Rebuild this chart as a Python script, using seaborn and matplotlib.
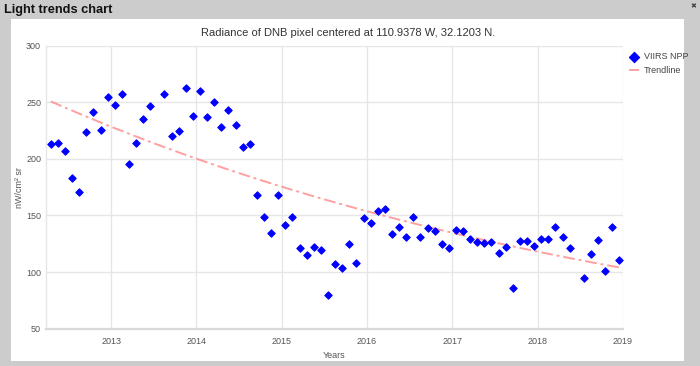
import numpy as np
import pandas as pd
import matplotlib
matplotlib.use("Agg")
import matplotlib.pyplot as plt
import seaborn as sns
from matplotlib.patches import Rectangle

# ---------------- data ----------------
months = [
    "2012-04", "2012-05", "2012-06", "2012-07", "2012-08", "2012-09", "2012-10", "2012-11", "2012-12",
    "2013-01", "2013-02", "2013-03", "2013-04", "2013-05", "2013-06", "2013-08", "2013-09", "2013-10",
    "2013-11", "2013-12",
    "2014-01", "2014-02", "2014-03", "2014-04", "2014-05", "2014-06", "2014-07", "2014-08", "2014-09",
    "2014-10", "2014-11", "2014-12",
    "2015-01", "2015-02", "2015-03", "2015-04", "2015-05", "2015-06", "2015-07", "2015-08", "2015-09",
    "2015-10", "2015-11", "2015-12",
    "2016-01", "2016-02", "2016-03", "2016-04", "2016-05", "2016-06", "2016-07", "2016-08", "2016-09",
    "2016-10", "2016-11", "2016-12",
    "2017-01", "2017-02", "2017-03", "2017-04", "2017-05", "2017-06", "2017-07", "2017-08", "2017-09",
    "2017-10", "2017-11", "2017-12",
    "2018-01", "2018-02", "2018-03", "2018-04", "2018-05", "2018-07", "2018-08", "2018-09", "2018-10",
    "2018-11", "2018-12",
]
radiance = [
    213.0, 213.9, 207.1, 183.5, 171.1, 224.2, 241.6, 225.9, 254.6,
    247.5, 257.3, 195.3, 214.2, 235.7, 246.9, 257.3, 220.4, 225.0,
    263.1, 238.3,
    260.2, 237.4, 250.7, 228.6, 243.4, 229.8, 210.9, 213.0, 168.1,
    149.0, 134.8, 167.9,
    141.9, 148.4, 121.2, 115.3, 122.4, 119.8, 79.6, 106.8, 103.8,
    125.0, 108.0, 147.5,
    143.4, 153.7, 155.8, 133.9, 139.8, 131.2, 148.7, 131.0, 139.2,
    136.5, 124.8, 121.0,
    137.2, 136.6, 128.9, 126.8, 125.9, 126.2, 116.8, 121.7, 85.8,
    127.4, 127.7, 123.0,
    128.9, 129.2, 139.6, 130.7, 121.5, 94.4, 115.7, 128.1, 101.2,
    139.8, 110.6,
]
# exponential trendline, end values
trend_start = 251.0
trend_end = 104.0
year_ticks = [2013, 2014, 2015, 2016, 2017, 2018, 2019]
y_ticks = [50, 100, 150, 200, 250, 300]

# ---------------- prep ----------------
dt = pd.to_datetime(months)
xdec = dt.year + (dt.month - 0.5) / 12.0
df = pd.DataFrame({"x": xdec, "y": radiance})
frac = (df["x"] - df["x"].min()) / (df["x"].max() - df["x"].min())
df["trend"] = trend_start * (trend_end / trend_start) ** frac

plt.rcParams["font.family"] = ["Liberation Sans", "DejaVu Sans"]

W, H = 700, 366
fig = plt.figure(figsize=(7, 3.66), dpi=100, facecolor="#cccccc")
fig.patches.append(Rectangle((11 / W, 1 - 361 / H), 673 / W, 342 / H,
                             transform=fig.transFigure, facecolor="white",
                             edgecolor="none", zorder=-5))

ax = fig.add_axes([46 / W, 1 - 328.5 / H, (623 - 46) / W, (328.5 - 46) / H])
ax.set_facecolor("white")
ax.set_zorder(1)

sns.lineplot(data=df, x="x", y="trend", ax=ax, color="#ff8080", alpha=0.75,
             linewidth=1.4, linestyle=(0, (6, 2, 1.5, 2)), label="Trendline", zorder=2)
sns.scatterplot(data=df, x="x", y="y", ax=ax, marker="D", s=14, color="#0000ff",
                edgecolor="#0000ff", linewidth=0.8, label="VIIRS NPP", zorder=3)

ax.set_xlim(2012.236, 2019.0)
ax.set_ylim(50, 300)
ax.set_xticks(year_ticks)
ax.set_xticklabels([str(t) for t in year_ticks])
ax.set_yticks(y_ticks)
ax.grid(True, color="#e6e6e6", linewidth=1.0, zorder=0)
ax.set_axisbelow(True)
for s in ["top", "right"]:
    ax.spines[s].set_visible(False)
ax.spines["left"].set_color("#e6e6e6")
ax.spines["left"].set_linewidth(1.0)
ax.spines["bottom"].set_color("#d8d8d8")
ax.spines["bottom"].set_linewidth(1.6)
ax.tick_params(axis="both", length=0, labelsize=6.5, labelcolor="#555555")
ax.tick_params(axis="x", pad=6)
ax.tick_params(axis="y", pad=3.5)
ax.set_xlabel("Years", fontsize=6.5, color="#555555", labelpad=4)
ax.set_ylabel("nW/cm² sr", fontsize=6.5, color="#555555")
ax.yaxis.set_label_coords((19 - 46) / (623 - 46), 0.5)
ax.yaxis.label.set_va("center")

handles, labels = ax.get_legend_handles_labels()
order = [labels.index("VIIRS NPP"), labels.index("Trendline")]
leg = ax.legend([handles[i] for i in order], [labels[i] for i in order],
                loc="upper left", bbox_to_anchor=(1.005, 0.99), frameon=False,
                fontsize=6.5, markerscale=1.4, handlelength=1.0, handletextpad=0.6,
                labelspacing=0.5, borderaxespad=0.0)
for t in leg.get_texts():
    t.set_color("#444444")

fig.text(348 / W, 1 - 33 / H, "Radiance of DNB pixel centered at 110.9378 W, 32.1203 N.",
         ha="center", va="center", fontsize=8, color="#333333")
fig.text(4 / W, 1 - 10 / H, "Light trends chart", ha="left", va="center",
         fontsize=9.2, fontweight="bold", color="#111111")
fig.text(693 / W, 1 - 6 / H, "✖", ha="center", va="center", fontsize=5,
         color="#444444", family=["DejaVu Sans"])

fig.savefig("out.png", dpi=100, facecolor=fig.get_facecolor())
